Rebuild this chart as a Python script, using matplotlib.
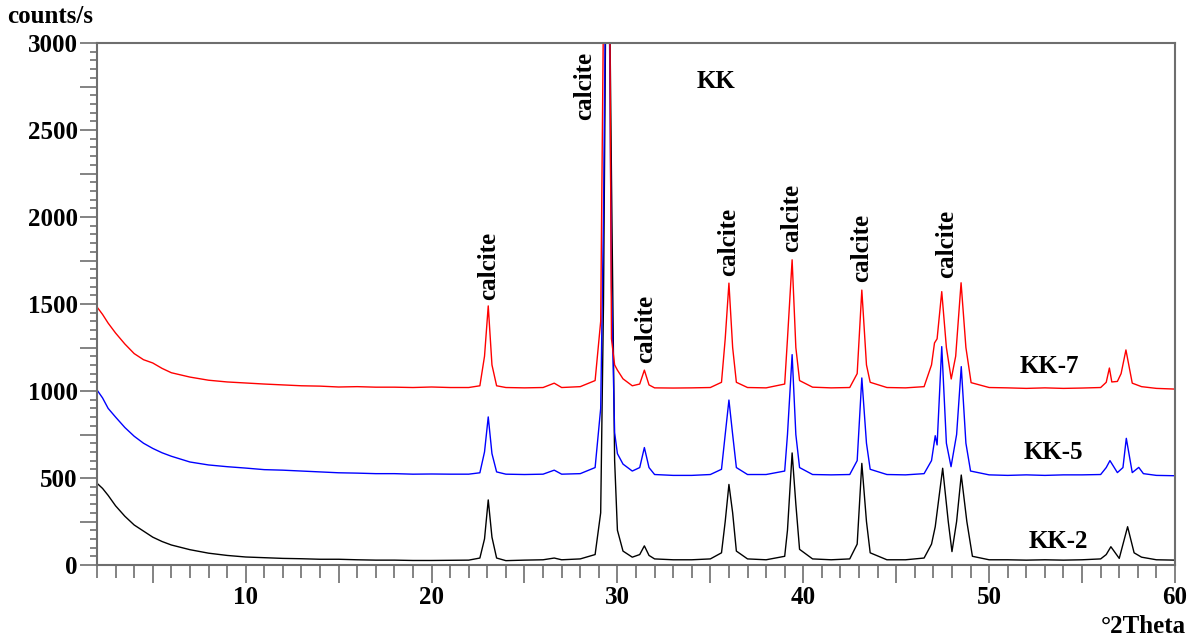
import matplotlib
matplotlib.use("Agg")
import matplotlib.pyplot as plt
from matplotlib.ticker import MultipleLocator, FuncFormatter

# values (2theta, counts/s)
x_kk2 = [2.0, 2.3, 2.6, 3.0, 3.5, 4.0, 4.5, 5.0, 5.5, 6.0, 7.0, 8.0, 9.0, 10.0, 11.0, 12.0,
         13.0, 14.0, 15.0, 16.0, 17.0, 18.0, 19.0, 20.0, 21.0, 22.0, 22.6, 22.85, 23.05, 23.25,
         23.5, 24.0, 25.0, 26.0, 26.6, 27.0, 28.0, 28.8, 29.1, 29.25, 29.4, 29.55, 29.68, 29.85,
         30.0, 30.3, 30.8, 31.2, 31.45, 31.7, 32.0, 33.0, 34.0, 35.0, 35.6, 35.8, 36.0, 36.2,
         36.4, 37.0, 38.0, 39.0, 39.15, 39.4, 39.6, 39.8, 40.5, 41.5, 42.5, 42.9, 43.15, 43.4,
         43.6, 44.5, 45.5, 46.5, 46.9, 47.1, 47.5, 47.8, 48.0, 48.25, 48.5, 48.8, 49.1, 50.0,
         51.0, 52.0, 53.0, 54.0, 55.0, 56.0, 56.3, 56.55, 57.0, 57.45, 57.8, 58.2, 59.0, 60.0]
y_kk2 = [470, 440, 400, 340, 280, 230, 195, 160, 135, 115, 88, 68, 55, 46, 42, 38,
         36, 33, 33, 30, 28, 28, 26, 26, 27, 28, 40, 150, 374, 160,
         40, 25, 28, 30, 40, 30, 35, 60, 300, 1500, 3600, 3600, 2230, 600,
         200, 80, 45, 60, 110, 55, 35, 30, 30, 35, 70, 250, 463, 300,
         80, 35, 30, 50, 200, 644, 350, 90, 35, 30, 35, 120, 584, 250,
         70, 30, 30, 40, 120, 220, 556, 250, 77, 250, 517, 250, 50, 30,
         30, 28, 30, 28, 30, 35, 60, 105, 38, 220, 70, 45, 30, 28]

x_kk5 = [2.0, 2.3, 2.6, 3.0, 3.5, 4.0, 4.5, 5.0, 5.5, 6.0, 7.0, 8.0, 9.0, 10.0, 11.0, 12.0,
         13.0, 14.0, 15.0, 16.0, 17.0, 18.0, 19.0, 20.0, 21.0, 22.0, 22.6, 22.85, 23.05, 23.25,
         23.5, 24.0, 25.0, 26.0, 26.6, 27.0, 28.0, 28.8, 29.1, 29.25, 29.4, 29.55, 29.68, 29.85,
         30.0, 30.3, 30.8, 31.2, 31.45, 31.7, 32.0, 33.0, 34.0, 35.0, 35.6, 35.8, 36.0, 36.2,
         36.4, 37.0, 38.0, 39.0, 39.15, 39.4, 39.6, 39.8, 40.5, 41.5, 42.5, 42.9, 43.15, 43.4,
         43.6, 44.5, 45.5, 46.5, 46.9, 47.1, 47.2, 47.45, 47.7, 47.95, 48.25, 48.5, 48.75, 49.0,
         50.0, 51.0, 52.0, 53.0, 54.0, 55.0, 56.0, 56.3, 56.5, 56.9, 57.2, 57.38, 57.7, 58.05,
         58.3, 59.0, 60.0]
y_kk5 = [1006, 960, 900, 850, 790, 740, 700, 670, 645, 625, 592, 575, 565, 557, 548, 545,
         540, 535, 530, 528, 525, 525, 522, 523, 522, 522, 530, 650, 851, 640,
         535, 522, 520, 522, 545, 522, 525, 560, 900, 2000, 3800, 3400, 1600, 760,
         640, 580, 540, 560, 675, 560, 520, 515, 515, 520, 550, 750, 948, 750,
         560, 520, 520, 540, 750, 1209, 750, 560, 520, 518, 520, 600, 1075, 700,
         550, 520, 518, 525, 600, 743, 690, 1255, 700, 565, 750, 1140, 700, 540,
         518, 515, 518, 515, 518, 518, 520, 560, 600, 531, 560, 728, 531, 561,
         525, 515, 513]

x_kk7 = [2.0, 2.3, 2.6, 3.0, 3.5, 4.0, 4.5, 5.0, 5.5, 6.0, 7.0, 8.0, 9.0, 10.0, 11.0, 12.0,
         13.0, 14.0, 15.0, 16.0, 17.0, 18.0, 19.0, 20.0, 21.0, 22.0, 22.6, 22.85, 23.05, 23.25,
         23.5, 24.0, 25.0, 26.0, 26.6, 27.0, 28.0, 28.8, 29.1, 29.25, 29.4, 29.55, 29.68, 29.85,
         30.0, 30.3, 30.8, 31.2, 31.45, 31.7, 32.0, 33.0, 34.0, 35.0, 35.6, 35.8, 36.0, 36.2,
         36.4, 37.0, 38.0, 39.0, 39.15, 39.4, 39.6, 39.8, 40.5, 41.5, 42.5, 42.9, 43.15, 43.4,
         43.6, 44.5, 45.5, 46.5, 46.9, 47.06, 47.2, 47.45, 47.7, 47.96, 48.2, 48.49, 48.75, 49.03,
         50.0, 51.0, 52.0, 53.0, 54.0, 55.0, 56.0, 56.3, 56.47, 56.6, 56.9, 57.1, 57.36, 57.7,
         58.2, 59.0, 60.0]
y_kk7 = [1483, 1440, 1390, 1333, 1270, 1215, 1180, 1161, 1130, 1105, 1080, 1062, 1052, 1046, 1040, 1035,
         1030, 1028, 1023, 1025, 1022, 1022, 1020, 1023, 1020, 1020, 1030, 1200, 1489, 1150,
         1030, 1020, 1018, 1020, 1045, 1020, 1025, 1060, 1400, 3200, 5000, 4000, 1300, 1150,
         1120, 1070, 1030, 1040, 1120, 1035, 1018, 1017, 1018, 1020, 1050, 1300, 1620, 1250,
         1050, 1020, 1018, 1040, 1300, 1754, 1250, 1060, 1022, 1018, 1020, 1100, 1580, 1150,
         1050, 1020, 1018, 1025, 1150, 1276, 1300, 1571, 1250, 1069, 1200, 1622, 1250, 1048,
         1020, 1018, 1015, 1018, 1015, 1017, 1020, 1050, 1132, 1052, 1055, 1100, 1236, 1045,
         1025, 1015, 1011]

# peak labels: (2theta, bottom of text in counts/s)
calcite_x = [23.05, 28.25, 31.5, 35.98, 39.37, 43.15, 47.7]
calcite_y = [1523, 2560, 1160, 1660, 1800, 1625, 1650]

sample_names = ["KK-2", "KK-5", "KK-7"]
sample_label_x = [53.7, 53.45, 53.25]
sample_label_y = [134, 644, 1140]

FONT = "Liberation Serif"
AXIS_GREY = "#6e6e6e"


def main():
    plt.rcParams["font.family"] = [FONT, "DejaVu Serif"]
    plt.rcParams["font.weight"] = "bold"

    fig = plt.figure(figsize=(11.99, 6.38), dpi=100)
    ax = fig.add_axes([97 / 1199, 73 / 638, 1078 / 1199, 522 / 638])

    ax.plot(x_kk2, y_kk2, color="black", lw=1.0)
    ax.plot(x_kk5, y_kk5, color="#0000ff", lw=1.0)
    ax.plot(x_kk7, y_kk7, color="#ff0000", lw=1.0)

    ax.set_xlim(2, 60)
    ax.set_ylim(0, 3000)

    ax.xaxis.set_major_locator(MultipleLocator(5))
    ax.xaxis.set_minor_locator(MultipleLocator(1))
    ax.xaxis.set_major_formatter(FuncFormatter(lambda v, p: f"{v:.0f}" if v % 10 == 0 else ""))
    ax.yaxis.set_major_locator(MultipleLocator(250))
    ax.yaxis.set_minor_locator(MultipleLocator(50))
    ax.yaxis.set_major_formatter(FuncFormatter(lambda v, p: f"{v:.0f}" if v % 500 == 0 else ""))

    ax.tick_params(axis="x", which="major", length=13, width=1.2, color=AXIS_GREY,
                   labelsize=18, pad=2)
    ax.tick_params(axis="x", which="minor", length=9, width=1.2, color=AXIS_GREY)
    ax.tick_params(axis="y", which="major", length=12, width=1.2, color=AXIS_GREY,
                   labelsize=18, pad=2)
    ax.tick_params(axis="y", which="minor", length=5, width=1.2, color=AXIS_GREY)
    for lab in ax.get_xticklabels() + ax.get_yticklabels():
        lab.set_fontweight("bold")

    for side in ["left", "bottom", "top", "right"]:
        ax.spines[side].set_color(AXIS_GREY)
        ax.spines[side].set_linewidth(1.5)

    for cx, cy in zip(calcite_x, calcite_y):
        ax.text(cx, cy, "calcite", rotation=90, ha="center", va="bottom",
                fontsize=18, fontweight="bold")

    for name, lx, ly in zip(sample_names, sample_label_x, sample_label_y):
        ax.text(lx, ly, name, ha="center", va="center", fontsize=18, fontweight="bold")

    ax.text(35.3, 2780, "KK", ha="center", va="center", fontsize=18, fontweight="bold")

    fig.text(7 / 1199, 1 - 23 / 638, "counts/s", ha="left", va="baseline",
             fontsize=18, fontweight="bold")
    fig.text(1186 / 1199, 1 - 633 / 638, "°2Theta", ha="right", va="baseline",
             fontsize=18, fontweight="bold")

    fig.savefig("out.png", dpi=100)


if __name__ == "__main__":
    main()
